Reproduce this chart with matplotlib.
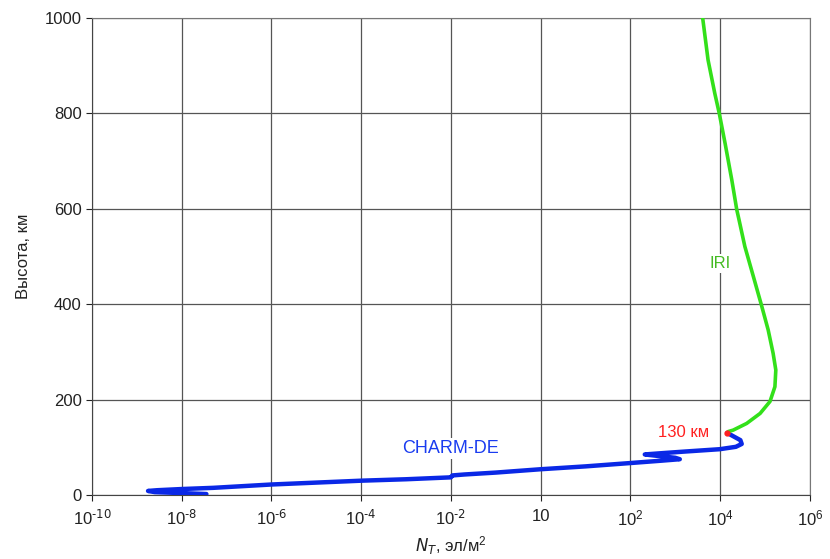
import numpy as np
import matplotlib.pyplot as plt

plt.rcParams['font.family'] = ['Liberation Sans', 'DejaVu Sans']
plt.rcParams['mathtext.default'] = 'regular'

# CHARM-DE profile: log10 of N_T (el/m^2) vs height (km)
charm_log_nt = [-7.45, -8.0, -8.6, -8.75, -8.55, -8.0, -7.3, -6.0, -5.0, -4.0,
                -3.0, -2.0, -1.97, -1.7, -1.0, 0.0, 1.0, 2.0, 2.7, 3.1,
                3.0, 2.6, 2.32, 2.6, 3.2, 3.99, 4.35, 4.48, 4.45, 4.16]
charm_height = [2, 4, 6, 8.5, 10, 12.5, 15, 22, 26, 30,
                33, 37, 41, 43, 47, 54, 60, 67, 72, 75,
                78, 82, 85, 87, 91, 96, 101, 107, 115, 130]

# IRI profile above 130 km
iri_log_nt = [4.16, 4.18, 4.29, 4.59, 4.89, 5.11, 5.22, 5.24, 5.18, 5.07,
              4.92, 4.74, 4.55, 4.42, 4.37, 4.26, 4.11, 3.98, 3.88, 3.73,
              3.61]
iri_height = [130, 133, 136, 150, 171, 196, 227, 262, 297, 346,
              398, 458, 521, 577, 598, 660, 737, 800, 842, 912,
              1000]

xticks = [-10, -8, -6, -4, -2, 0, 2, 4, 6]
xtick_labels = ['$10^{\\text{-10}}$', '$10^{\\text{-8}}$', '$10^{\\text{-6}}$',
                '$10^{\\text{-4}}$', '$10^{\\text{-2}}$', '10',
                '$10^{2}$', '$10^{4}$', '$10^{6}$']
yticks = [0, 200, 400, 600, 800, 1000]

fig = plt.figure(figsize=(8.3, 5.59), dpi=100)
ax = fig.add_axes([0.1108, 0.1145, 0.865, 0.8533])

ax.plot(10.0 ** np.array(charm_log_nt), charm_height, color='#0a28e6', lw=3.2,
        solid_joinstyle='round', solid_capstyle='round', zorder=3)
ax.plot(10.0 ** np.array(iri_log_nt), iri_height, color='#33e01a', lw=2.6,
        solid_joinstyle='round', zorder=3)
ax.plot(10.0 ** iri_log_nt[0], iri_height[0], 'o', color='#ff2020', ms=3.5, zorder=4)

ax.set_xscale('log')
ax.set_xlim(1e-10, 1e6)
ax.set_ylim(0, 1000)
ax.set_xticks([10.0 ** t for t in xticks])
ax.set_xticklabels(xtick_labels)
ax.minorticks_off()
ax.set_yticks(yticks)
ax.tick_params(labelsize=12, colors='#222222', length=4, width=0.8, direction='out')
ax.tick_params(axis='x', pad=6)

ax.grid(True, color='#555555', lw=0.9)
for side in ['top', 'right']:
    ax.spines[side].set_color('#777777')
for side in ['left', 'bottom']:
    ax.spines[side].set_color('#444444')

ax.set_ylabel('Высота, км', fontsize=12, color='#222222', labelpad=10)
ax.set_xlabel('$\\mathit{N_T}$, эл/м$^2$', fontsize=12, color='#222222', labelpad=4)

box = dict(facecolor='white', edgecolor='none', pad=1.5)
ax.text(10.0 ** -2, 98, 'CHARM-DE', color='#1a3cf0', fontsize=13,
        ha='center', va='center', bbox=box, zorder=5)
ax.text(10.0 ** 4, 485, 'IRI', color='#44bb22', fontsize=12,
        ha='center', va='center', bbox=box, zorder=5)
ax.text(10.0 ** 3.75, 132, '130 км', color='#ff2020', fontsize=12,
        ha='right', va='center', zorder=5)

fig.savefig('out.png', dpi=100)
